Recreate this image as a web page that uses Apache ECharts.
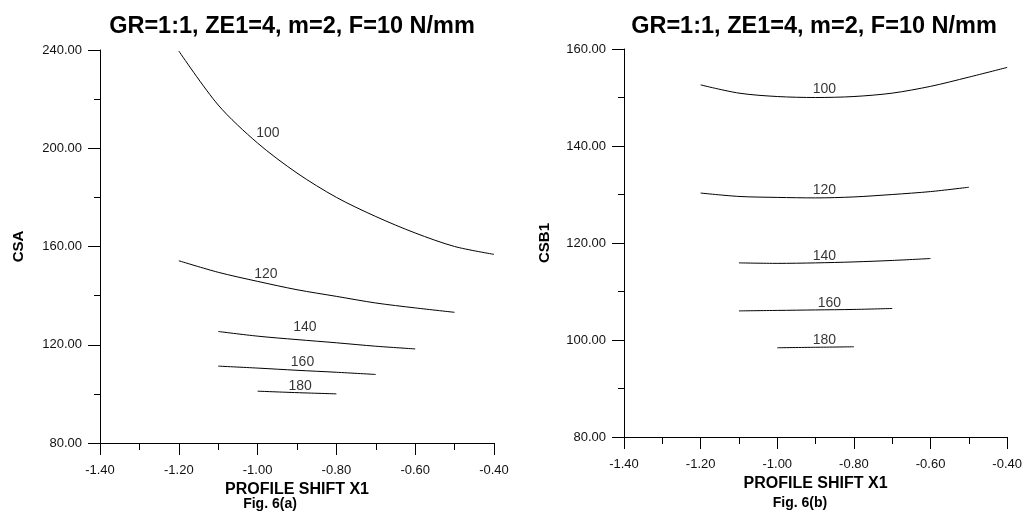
<!DOCTYPE html>
<html>
<head>
<meta charset="utf-8">
<script src="https://cdn.jsdelivr.net/npm/echarts@6/dist/echarts.min.js"></script>
<style>
  html, body { margin: 0; padding: 0; background: #fff; }
  #chart { width: 1025px; height: 513px; }
</style>
</head>
<body>
<div id="chart"></div>
<script>
// Profile shift X1 (shared x grid)
const shiftA = [-1.2, -1.1, -1.0, -0.9, -0.8, -0.7, -0.6, -0.5, -0.4];

// Fig. 6(a): CSA contours
const csa100 = [239.6, 217.6, 202.1, 189.9, 180.0, 172.2, 165.5, 160.0, 156.8];
const csa120 = [154.2, 149.5, 145.8, 142.4, 139.7, 137.0, 135.0, 133.2, null];
const csa140 = [null, 125.4, 123.5, 122.1, 120.8, 119.4, 118.3, null, null];
const csa160 = [null, 111.3, 110.5, 109.6, 108.8, 107.9, null, null, null];
const csa180 = [null, null, 101.1, 100.5, 100.0, null, null, null, null];

// Fig. 6(b): CSB1 contours
const csb100 = [152.6, 150.9, 150.2, 150.0, 150.2, 150.9, 152.3, 154.2, 156.2];
const csb120 = [130.3, 129.6, 129.4, 129.3, 129.5, 130.0, 130.6, 131.5, null];
const csb140 = [null, 115.9, 115.8, 115.9, 116.1, 116.4, 116.8, null, null];
const csb160 = [null, 106.0, 106.1, 106.2, 106.3, 106.5, null, null, null];
const csb180 = [null, null, 98.4, 98.5, 98.6, null, null, null, null];

// Contour level labels: [x1, value, level]
const csaLevels = [[-0.974, 206.3, '100'], [-0.979, 148.9, '120'], [-0.880, 127.0, '140'], [-0.886, 112.9, '160'], [-0.892, 103.1, '180']];
const csbLevels = [[-0.877, 151.8, '100'], [-0.877, 130.8, '120'], [-0.877, 117.2, '140'], [-0.864, 107.6, '160'], [-0.877, 99.9, '180']];

const titleText = 'GR=1:1, ZE1=4, m=2, F=10 N/mm';
const xName = 'PROFILE SHIFT X1';
const captions = ['Fig. 6(a)', 'Fig. 6(b)'];

const FONT = '"Liberation Sans", Arial, sans-serif';

function pairs(xs, ys) {
  const out = [];
  xs.forEach((x, i) => { if (ys[i] != null) out.push([x, ys[i]]); });
  return out;
}

function contour(ys, idx) {
  return {
    type: 'line',
    xAxisIndex: idx, yAxisIndex: idx,
    data: pairs(shiftA, ys),
    smooth: 0.3,
    showSymbol: false,
    lineStyle: { color: '#000', width: 1 },
    silent: true,
    z: 2
  };
}

function levelLabels(levels, idx) {
  return {
    type: 'scatter',
    xAxisIndex: idx, yAxisIndex: idx,
    data: levels.map(l => ({ value: [l[0], l[1]], name: l[2] })),
    symbolSize: 1,
    itemStyle: { color: 'rgba(0,0,0,0)' },
    label: {
      show: true, position: 'inside', formatter: '{b}',
      color: '#000', fontFamily: FONT, fontSize: 14
    },
    silent: true,
    z: 3
  };
}

function xAxis(idx) {
  return {
    type: 'value', gridIndex: idx,
    min: -1.4, max: -0.4, interval: 0.2,
    name: xName, nameLocation: 'middle', nameGap: 37,
    nameTextStyle: { color: '#000', fontFamily: FONT, fontSize: 16, fontWeight: 'bold' },
    axisLine: { show: true, lineStyle: { color: '#000', width: 1 } },
    axisTick: { show: true, inside: false, length: 12, lineStyle: { color: '#000', width: 1 } },
    minorTick: { show: true, splitNumber: 2, length: 7, lineStyle: { color: '#000', width: 1 } },
    axisLabel: { margin: 21, color: '#111', fontFamily: FONT, fontSize: 13,
      formatter: v => v.toFixed(2) },
    splitLine: { show: false }
  };
}

function yAxis(idx, min, max, step, name, gap) {
  return {
    type: 'value', gridIndex: idx,
    min: min, max: max, interval: step,
    name: name, nameLocation: 'middle', nameGap: gap, nameRotate: 90,
    nameTextStyle: { color: '#000', fontFamily: FONT, fontSize: 15, fontWeight: 'bold' },
    axisLine: { show: true, lineStyle: { color: '#000', width: 1 } },
    axisTick: { show: true, inside: false, length: 12, lineStyle: { color: '#000', width: 1 } },
    minorTick: { show: true, splitNumber: 2, length: 6, lineStyle: { color: '#000', width: 1 } },
    axisLabel: { margin: 18, color: '#111', fontFamily: FONT, fontSize: 13,
      formatter: v => v.toFixed(2) },
    splitLine: { show: false }
  };
}

const titleStyle = { color: '#000', fontFamily: FONT, fontSize: 23.5, fontWeight: 'bold' };
const captionStyle = { color: '#000', fontFamily: FONT, fontSize: 14, fontWeight: 'bold' };

const chart = echarts.init(document.getElementById('chart'), null, { renderer: 'canvas' });
chart.setOption({
  backgroundColor: '#fff',
  animation: false,
  title: [
    { text: titleText, left: 292, top: 15, padding: 0, textAlign: 'center', textStyle: titleStyle },
    { text: titleText, left: 814, top: 15, padding: 0, textAlign: 'center', textStyle: titleStyle },
    { text: captions[0], left: 270, top: 497, padding: 0, textAlign: 'center', textStyle: captionStyle },
    { text: captions[1], left: 800, top: 496, padding: 0, textAlign: 'center', textStyle: captionStyle }
  ],
  grid: [
    { left: 100, top: 50, width: 394, height: 393 },
    { left: 624, top: 49, width: 388, height: 388 }
  ],
  xAxis: [xAxis(0), xAxis(1)],
  yAxis: [
    yAxis(0, 80, 240, 40, 'CSA', 74),
    yAxis(1, 80, 160, 20, 'CSB1', 72)
  ],
  series: [
    contour(csa100, 0), contour(csa120, 0), contour(csa140, 0), contour(csa160, 0), contour(csa180, 0),
    contour(csb100, 1), contour(csb120, 1), contour(csb140, 1), contour(csb160, 1), contour(csb180, 1),
    levelLabels(csaLevels, 0), levelLabels(csbLevels, 1)
  ]
});
</script>
</body>
</html>
